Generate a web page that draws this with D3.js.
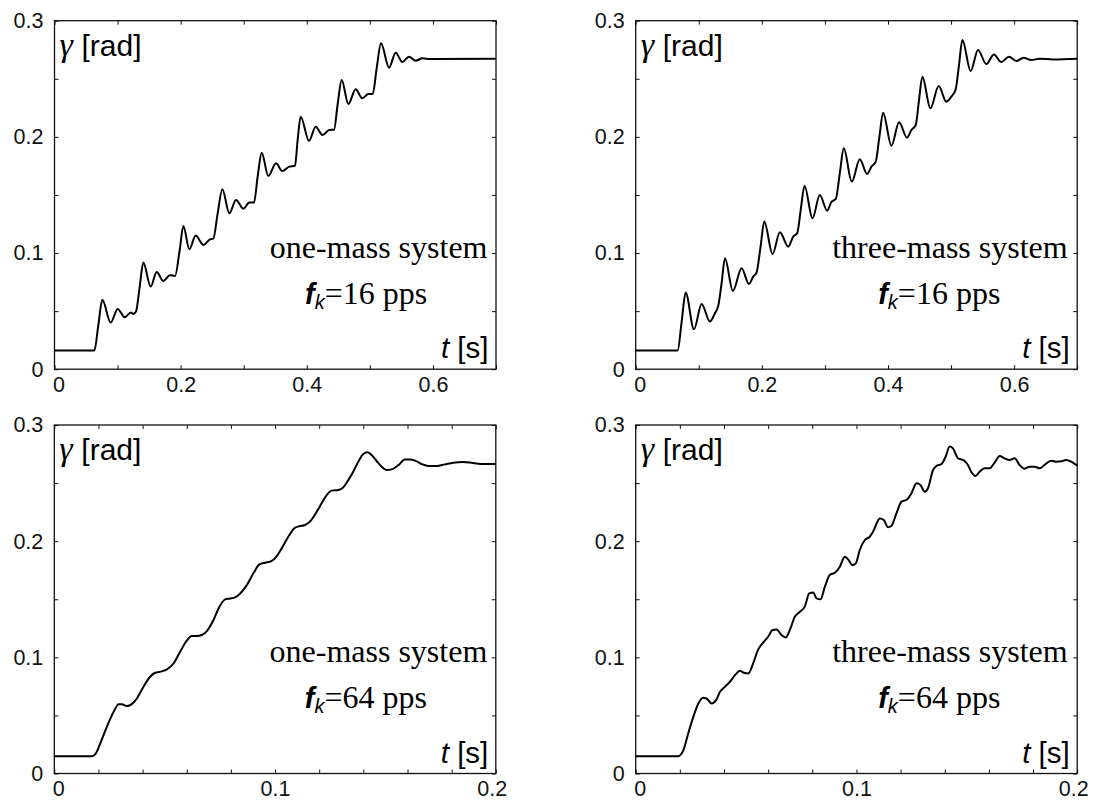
<!DOCTYPE html>
<html>
<head>
<meta charset="utf-8">
<script src="https://cdn.jsdelivr.net/npm/d3@7"></script>
<style>
  body { margin: 0; background: #fff; }
  svg { display: block; }
</style>
</head>
<body>
<svg id="chart" width="1094" height="801"></svg>
<script>
// [t (s), gamma (rad)]
const oneMass16 = [
  [0, 0.0161], [0.0632, 0.0161], [0.0695, 0.0379], [0.0758, 0.0597], [0.0891, 0.0402],
  [0.1002, 0.0519], [0.1112, 0.0447], [0.1213, 0.0488], [0.125, 0.0476], [0.1292, 0.0496],
  [0.135, 0.0706], [0.1408, 0.0918], [0.1525, 0.0711], [0.162, 0.0837], [0.1726, 0.076],
  [0.1831, 0.0809], [0.1911, 0.0803], [0.1985, 0.1026], [0.2043, 0.1233], [0.2138, 0.1032],
  [0.2238, 0.115], [0.236, 0.107], [0.2465, 0.1118], [0.2518, 0.1124], [0.2587, 0.1342],
  [0.2661, 0.1549], [0.2772, 0.1342], [0.2878, 0.1457], [0.2994, 0.1382], [0.3089, 0.1434],
  [0.3163, 0.1434], [0.3221, 0.1658], [0.3285, 0.1864], [0.339, 0.1663], [0.3512, 0.1772],
  [0.3612, 0.1706], [0.3723, 0.1744], [0.3813, 0.1752], [0.3855, 0.1973], [0.3903, 0.2174],
  [0.4035, 0.1965], [0.4141, 0.2088], [0.4247, 0.2016], [0.4358, 0.2059], [0.4432, 0.2062],
  [0.449, 0.2283], [0.4553, 0.2489], [0.4659, 0.2283], [0.4775, 0.2409], [0.4881, 0.2332],
  [0.4976, 0.2369], [0.5045, 0.2369], [0.5108, 0.259], [0.5177, 0.2805], [0.5304, 0.2596],
  [0.5409, 0.2725], [0.5515, 0.2644], [0.5621, 0.269], [0.5727, 0.2656], [0.5833, 0.2676],
  [0.5954, 0.267], [0.7, 0.2673],
];

const threeMass16 = [
  [0, 0.0161], [0.0665, 0.0161], [0.0729, 0.041], [0.0792, 0.066], [0.0924, 0.0344],
  [0.1045, 0.0562], [0.1177, 0.041], [0.1256, 0.0482], [0.1309, 0.0545], [0.1362, 0.074],
  [0.1415, 0.0955], [0.1541, 0.0674], [0.1679, 0.0869], [0.1795, 0.0734], [0.1863, 0.0797],
  [0.1916, 0.0832], [0.198, 0.1055], [0.2038, 0.1271], [0.217, 0.0992], [0.2286, 0.1179],
  [0.2418, 0.1055], [0.2497, 0.1141], [0.256, 0.117], [0.2618, 0.1377], [0.2676, 0.158],
  [0.2803, 0.1299], [0.2919, 0.15], [0.3035, 0.1365], [0.3104, 0.144], [0.3173, 0.1466],
  [0.3236, 0.1686], [0.3299, 0.1901], [0.3426, 0.1615], [0.3553, 0.1807], [0.3669, 0.1681],
  [0.3738, 0.1744], [0.3806, 0.1787], [0.3864, 0.2002], [0.3922, 0.2208], [0.4054, 0.1924],
  [0.4176, 0.2125], [0.4302, 0.1993], [0.4371, 0.2059], [0.444, 0.2102], [0.4492, 0.2317],
  [0.4545, 0.2518], [0.4672, 0.2246], [0.4804, 0.2438], [0.4925, 0.2303], [0.5004, 0.2346],
  [0.5073, 0.2409], [0.5126, 0.2618], [0.5179, 0.2834], [0.5311, 0.2567], [0.5427, 0.2748],
  [0.5559, 0.2627], [0.568, 0.271], [0.5796, 0.2644], [0.5918, 0.269], [0.6034, 0.2653],
  [0.615, 0.2682], [0.6271, 0.2661], [0.6403, 0.2673], [0.6615, 0.2667], [0.7, 0.2673],
];

const oneMass64 = [
  [0, 0.0149], [0.017, 0.0149], [0.0186, 0.0167], [0.0208, 0.0258], [0.0238, 0.0402],
  [0.0269, 0.0531], [0.0291, 0.0597], [0.0306, 0.0597], [0.0329, 0.058], [0.0351, 0.0597],
  [0.0374, 0.0646], [0.0404, 0.0747], [0.0434, 0.0833], [0.0457, 0.0867], [0.0487, 0.0879],
  [0.051, 0.0896], [0.054, 0.0947], [0.057, 0.1048], [0.06, 0.1143], [0.0623, 0.1183],
  [0.0646, 0.1183], [0.0668, 0.1192], [0.0691, 0.1226], [0.0721, 0.1321], [0.0744, 0.1421],
  [0.0774, 0.1499], [0.0796, 0.1507], [0.0819, 0.1516], [0.0842, 0.155], [0.0872, 0.1622],
  [0.0902, 0.1723], [0.0929, 0.18], [0.0955, 0.1815], [0.0977, 0.1823], [0.1, 0.1852],
  [0.103, 0.1938], [0.106, 0.2038], [0.1091, 0.2116], [0.1113, 0.213], [0.1136, 0.2139],
  [0.1158, 0.2168], [0.1189, 0.2254], [0.1211, 0.2326], [0.1234, 0.2397], [0.1256, 0.2435],
  [0.1287, 0.244], [0.1309, 0.2463], [0.1332, 0.2527], [0.1354, 0.2598], [0.1377, 0.2684],
  [0.14, 0.275], [0.1418, 0.2765], [0.1437, 0.2742], [0.146, 0.269], [0.1483, 0.2641],
  [0.1505, 0.2613], [0.1528, 0.2618], [0.1558, 0.2653], [0.1588, 0.2702], [0.1611, 0.2702],
  [0.1634, 0.2693], [0.1664, 0.2664], [0.1694, 0.2647], [0.1732, 0.2647], [0.1769, 0.2661],
  [0.1807, 0.2676], [0.1852, 0.2682], [0.1897, 0.2673], [0.1943, 0.2664], [0.2, 0.2664],
];

const threeMass64 = [
  [0, 0.0149], [0.0193, 0.0149], [0.0216, 0.0201], [0.0238, 0.0345], [0.0261, 0.0488],
  [0.0284, 0.0603], [0.0306, 0.0652], [0.0321, 0.0646], [0.0344, 0.0603], [0.0364, 0.0632],
  [0.0382, 0.0703], [0.0404, 0.0746], [0.0427, 0.079], [0.045, 0.0847], [0.0472, 0.0884],
  [0.049, 0.0867], [0.051, 0.0861], [0.0532, 0.0947], [0.0555, 0.1068], [0.0578, 0.1128],
  [0.06, 0.1177], [0.062, 0.1235], [0.0638, 0.124], [0.0661, 0.1191], [0.068, 0.1171],
  [0.0698, 0.1235], [0.0721, 0.1349], [0.0744, 0.1392], [0.0766, 0.1436], [0.0786, 0.155],
  [0.0804, 0.1559], [0.0819, 0.1507], [0.0837, 0.1499], [0.0857, 0.1608], [0.0879, 0.1708],
  [0.0902, 0.1728], [0.0925, 0.178], [0.0947, 0.1866], [0.0962, 0.1843], [0.0982, 0.1794],
  [0.0997, 0.1809], [0.1015, 0.1924], [0.1038, 0.201], [0.106, 0.2038], [0.1075, 0.2081],
  [0.1106, 0.2196], [0.1124, 0.2182], [0.1143, 0.2119], [0.1158, 0.213], [0.1181, 0.2239],
  [0.1204, 0.234], [0.1226, 0.2354], [0.1249, 0.2412], [0.1272, 0.2498], [0.129, 0.2483],
  [0.1309, 0.2426], [0.1324, 0.2455], [0.1347, 0.2613], [0.1362, 0.2647], [0.1385, 0.2664],
  [0.1404, 0.2727], [0.1422, 0.2814], [0.1437, 0.2799], [0.146, 0.2713], [0.1483, 0.2699],
  [0.1505, 0.2656], [0.152, 0.2598], [0.154, 0.2561], [0.1558, 0.2598], [0.1581, 0.2627],
  [0.1603, 0.2627], [0.1626, 0.2676], [0.1649, 0.2733], [0.1671, 0.2713], [0.1694, 0.2699],
  [0.1717, 0.2713], [0.1739, 0.2656], [0.1762, 0.2624], [0.1784, 0.2641], [0.1807, 0.2641],
  [0.183, 0.2627], [0.1852, 0.2656], [0.1882, 0.2693], [0.1905, 0.2684], [0.1928, 0.2687],
  [0.195, 0.2699], [0.1973, 0.2684], [0.2, 0.265],
];

const yTicks = [0, 0.05, 0.1, 0.15, 0.2, 0.25, 0.3];
const yLabels = [0, 0.1, 0.2, 0.3];
const slowXTicks = [0, 0.1, 0.2, 0.3, 0.4, 0.5, 0.6, 0.7];
const slowXLabels = [0, 0.2, 0.4, 0.6];
const fastXTicks = [0, 0.02, 0.04, 0.06, 0.08, 0.1, 0.12, 0.14, 0.16, 0.18, 0.2];
const fastXLabels = [0, 0.1, 0.2];

const PANEL_W = 441.5;
const PANEL_H = 348.5;
const SANS = "'Liberation Sans', Arial, Helvetica, sans-serif";
const SERIF = "'Liberation Serif', 'Times New Roman', Times, serif";

const panels = [
  { data: oneMass16, left: 54.5, top: 20.7, xMax: 0.7, xTicks: slowXTicks, xLabels: slowXLabels,
    system: "one-mass system", rate: "16", fkX: 250.5, sysRight: 8.5 },
  { data: threeMass16, left: 635.7, top: 20.7, xMax: 0.7, xTicks: slowXTicks, xLabels: slowXLabels,
    system: "three-mass system", rate: "16", fkX: 242.5, sysRight: 9.5 },
  { data: oneMass64, left: 54.3, top: 425, xMax: 0.2, xTicks: fastXTicks, xLabels: fastXLabels,
    system: "one-mass system", rate: "64", fkX: 250.5, sysRight: 8.5 },
  { data: threeMass64, left: 635.7, top: 425, xMax: 0.2, xTicks: fastXTicks, xLabels: fastXLabels,
    system: "three-mass system", rate: "64", fkX: 242.5, sysRight: 9.5 },
];

function labelFormat(labels) {
  return (d) => (labels.some((v) => Math.abs(v - d) < 1e-9) ? String(+d.toFixed(2)) : "");
}

function styleAxis(sel) {
  sel.select(".domain").remove();
  sel.selectAll(".tick line").attr("stroke", "#111").attr("stroke-width", 1);
  sel.selectAll(".tick text")
    .attr("fill", "#111")
    .style("font-family", SANS)
    .style("font-size", "21.5px");
}

function drawPanel(svg, p) {
  const g = svg.append("g").attr("transform", `translate(${p.left},${p.top})`);
  const x = d3.scaleLinear().domain([0, p.xMax]).range([0, PANEL_W]);
  const y = d3.scaleLinear().domain([0, 0.3]).range([PANEL_H, 0]);

  const bottom = g.append("g")
    .attr("transform", `translate(0,${PANEL_H})`)
    .call(d3.axisBottom(x).tickValues(p.xTicks).tickSize(-4).tickPadding(7.5)
      .tickFormat(labelFormat(p.xLabels)));
  styleAxis(bottom);
  // end labels sit a little inside the frame in the original
  bottom.selectAll(".tick text")
    .attr("dx", (d) => (d === 0 ? 4 : Math.abs(d - p.xMax) < 1e-9 ? -4 : 0));

  styleAxis(g.append("g")
    .call(d3.axisTop(x).tickValues(p.xTicks).tickSize(-4).tickFormat("")));

  styleAxis(g.append("g")
    .call(d3.axisLeft(y).tickValues(yTicks).tickSize(-4).tickPadding(11)
      .tickFormat(labelFormat(yLabels))));

  styleAxis(g.append("g")
    .attr("transform", `translate(${PANEL_W},0)`)
    .call(d3.axisRight(y).tickValues(yTicks).tickSize(-4).tickFormat("")));

  g.append("rect")
    .attr("width", PANEL_W)
    .attr("height", PANEL_H)
    .attr("fill", "none")
    .attr("stroke", "#111")
    .attr("stroke-width", 1.3);

  const line = d3.line()
    .x((d) => x(d[0]))
    .y((d) => y(d[1]))
    .curve(d3.curveMonotoneX);

  g.append("path")
    .datum(p.data)
    .attr("fill", "none")
    .attr("stroke", "#000")
    .attr("stroke-width", 2)
    .attr("stroke-linejoin", "round")
    .attr("d", line);

  // y-axis label
  const yl = g.append("text").attr("x", 5).attr("y", 35).attr("fill", "#000");
  yl.append("tspan")
    .style("font-family", SERIF)
    .style("font-style", "italic")
    .style("font-size", "34px")
    .text("γ");
  yl.append("tspan")
    .attr("x", 27)
    .style("font-family", SANS)
    .style("font-size", "30px")
    .text("[rad]");

  // x-axis label
  const xl = g.append("text")
    .attr("x", PANEL_W - 7.5)
    .attr("y", PANEL_H - 11)
    .attr("text-anchor", "end")
    .attr("fill", "#000")
    .style("font-family", SANS)
    .style("font-size", "29.5px");
  xl.append("tspan").style("font-style", "italic").text("t");
  xl.append("tspan").text(" [s]");

  g.append("text")
    .attr("x", PANEL_W - p.sysRight)
    .attr("y", PANEL_H - 111.5)
    .attr("text-anchor", "end")
    .attr("fill", "#000")
    .style("font-family", SERIF)
    .style("font-size", "32px")
    .text(p.system);

  const fk = g.append("text")
    .attr("x", p.fkX)
    .attr("y", PANEL_H - 65.5)
    .attr("fill", "#000");
  fk.append("tspan")
    .style("font-family", SANS)
    .style("font-style", "italic")
    .style("font-weight", "bold")
    .style("font-size", "29px")
    .text("f");
  fk.append("tspan")
    .attr("dy", 5)
    .style("font-family", SANS)
    .style("font-style", "italic")
    .style("font-size", "20px")
    .text("k");
  fk.append("tspan")
    .attr("dy", -5)
    .style("font-family", SERIF)
    .style("font-size", "32px")
    .text(`=${p.rate} pps`);
}

const svg = d3.select("#chart");
panels.forEach((p) => drawPanel(svg, p));
</script>
</body>
</html>
